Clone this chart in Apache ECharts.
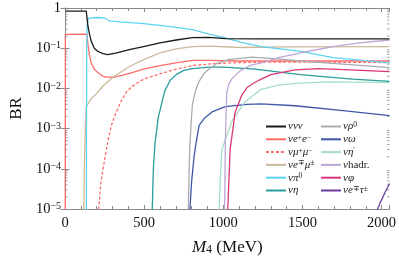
<!DOCTYPE html>
<html><head><meta charset="utf-8">
<script src="https://cdn.jsdelivr.net/npm/echarts@6/dist/echarts.min.js"></script>
<style>html,body{margin:0;padding:0;background:#fff}#c{width:399px;height:261px}</style>
</head><body><div id="c"></div>
<script>
// ---- data (M4 in MeV, branching ratio) ----
const nuNuNu = [[0,0.84],[134,0.84],[138,0.6],[145,0.35],[155,0.22],[165,0.15],[185,0.1],[206,0.084],[240,0.073],[268,0.069],[320,0.075],[413,0.093],[496,0.11],[600,0.135],[702,0.16],[805,0.183],[910,0.185],[1012,0.173],[1200,0.17],[1500,0.17],[2050,0.17]];
const nuEE = [[1.03,1e-7],[2,0.22],[139,0.225],[145,0.12],[155,0.065],[165,0.043],[185,0.03],[206,0.025],[240,0.02],[268,0.019],[310,0.019],[360,0.021],[413,0.024],[496,0.03],[600,0.037],[702,0.043],[805,0.05],[910,0.05],[1100,0.048],[1500,0.048],[2050,0.048]];
const nuMuMu = [[211.4,1e-7],[213,1e-5],[225,4e-5],[240,1e-4],[268,4.2e-4],[290,1.1e-3],[310,0.0019],[350,0.0045],[392,0.0087],[440,0.0125],[496,0.017],[599,0.023],[700,0.03],[805,0.037],[929,0.041],[1100,0.044],[1300,0.045],[1600,0.045],[2050,0.044]];
const nuEMu = [[117,1e-7],[118.5,1e-5],[122,1e-4],[128,1e-3],[134,0.0034],[150,0.0045],[170,0.0058],[196,0.0072],[240,0.0115],[310,0.02],[413,0.036],[496,0.052],[599,0.076],[702,0.096],[805,0.11],[910,0.112],[1115,0.104],[1400,0.108],[2050,0.11]];
const nuPi0 = [[134.9,1e-7],[135.5,1e-3],[137,0.1],[140,0.4],[148,0.56],[200,0.58],[248,0.57],[260,0.53],[280,0.48],[350,0.45],[496,0.41],[600,0.37],[702,0.33],[805,0.29],[910,0.225],[1012,0.18],[1115,0.14],[1239,0.11],[1487,0.083],[1693,0.058],[2050,0.043]];
const nuEta = [[549,1e-7],[551,1e-5],[558,1e-4],[568,4.2e-4],[589,0.0019],[630,0.0087],[665,0.016],[702,0.022],[750,0.028],[805,0.031],[909,0.034],[1000,0.034],[1200,0.03],[1487,0.022],[1817,0.017],[2050,0.015]];
const nuRho = [[775,1e-7],[779,1e-5],[784,1e-4],[789,4.2e-4],[797,0.0015],[805,0.0041],[825,0.009],[847,0.015],[880,0.024],[909,0.03],[960,0.042],[1033,0.052],[1177,0.06],[1300,0.056],[1487,0.048],[1800,0.039],[2050,0.033]];
const nuOmega = [[782,1e-7],[789,1e-5],[800,5e-5],[815,2e-4],[826,4e-4],[847,0.0012],[880,0.0018],[929,0.0026],[1012,0.0035],[1150,0.004],[1239,0.0041],[1453,0.0037],[1756,0.0028],[2050,0.0021]];
const nuEtaP = [[972,1e-7],[974,1e-5],[980,5e-5],[991,3e-4],[1053,0.0015],[1136,0.0046],[1239,0.0095],[1350,0.012],[1453,0.0134],[1655,0.0145],[2050,0.014]];
const nuHadr = [[1000,1e-7],[1008,1e-5],[1011,1e-4],[1013,5e-4],[1018,0.003],[1022,0.0079],[1035,0.013],[1053,0.017],[1080,0.022],[1115,0.029],[1177,0.038],[1239,0.043],[1350,0.058],[1487,0.077],[1693,0.11],[1858,0.135],[2050,0.16]];
const nuPhi = [[1019.5,1e-7],[1028,1e-5],[1035,5e-5],[1043,3e-4],[1074,0.0025],[1115,0.0066],[1150,0.0105],[1198,0.014],[1239,0.017],[1300,0.022],[1453,0.029],[1600,0.031],[1800,0.029],[2050,0.026]];
const nuETau = [[1970,9e-6],[1990,1.4e-5],[2011,2.1e-5],[2030,3e-5],[2050,4.3e-5]];

const xTickLabels = [0,500,1000,1500,2000];
const yDecades = [1e-5,1e-4,1e-3,1e-2,1e-1,1];

const names = ['ννν','νe⁺e⁻','νμ⁺μ⁻','νe∓μ±','νπ⁰','νη','νρ⁰','νω','νη′','νhadr.','νφ','νe∓τ±'];
const richNames = {
 'ννν':'{i|ννν}',
 'νe⁺e⁻':'{i|νe}{sp|+}{i|e}{sp|−}',
 'νμ⁺μ⁻':'{i|νμ}{sp|+}{i|μ}{sp|−}',
 'νe∓μ±':'{i|νe}{sp|∓}{i|μ}{sp|±}',
 'νπ⁰':'{i|νπ}{sp|0}',
 'νη':'{i|νη}',
 'νρ⁰':'{i|νρ}{sp|0}',
 'νω':'{i|νω}',
 'νη′':'{i|νη}{sp|′}',
 'νhadr.':'{i|ν}{r|hadr.}',
 'νφ':'{i|νφ}',
 'νe∓τ±':'{i|νe}{sp|∓}{i|τ}{sp|±}'
};
const datas = [nuNuNu,nuEE,nuMuMu,nuEMu,nuPi0,nuEta,nuRho,nuOmega,nuEtaP,nuHadr,nuPhi,nuETau];
const colors = ['#1a1a1a','#ff6b6b','#ff6b6b','#c9b99a','#5dd3f3','#2a9c9c','#a8acb0','#3f56a8','#a6dcc4','#bca6d6','#d8387a','#6a3c9e'];
const FONT = 'Liberation Serif';

const minorVals = [];
for (let e = -5; e < 0; e++) for (let k = 2; k <= 9; k++) minorVals.push([0, k*Math.pow(10,e)]);

const series = datas.map((d,i)=>({
  name: names[i], type:'line', data:d, showSymbol:false, symbol:'none',
  lineStyle:{color:colors[i], width:1.3, type: i===2?[3,2]:'solid'},
  itemStyle:{color:colors[i]}, z: 3+(i===0?1:0), clip:true, animation:false
}));
series.push({
  type:'custom', data:minorVals, silent:true, clip:false, z:10, animation:false,
  renderItem:function(params, api){
    const v = api.value(1);
    const l = api.coord([0, v]); const r = api.coord([2050, v]);
    return {type:'group', children:[
      {type:'line', shape:{x1:l[0],y1:l[1],x2:l[0]+2.5,y2:l[1]}, style:{stroke:'#888',lineWidth:0.8}},
      {type:'line', shape:{x1:r[0],y1:r[1],x2:r[0]-2.5,y2:r[1]}, style:{stroke:'#888',lineWidth:0.8}}
    ]};
  }
});

const legendRich = {
  i:{fontFamily:FONT,fontStyle:'italic',fontSize:11,color:'#222'},
  r:{fontFamily:FONT,fontSize:11,color:'#222'},
  sp:{fontFamily:FONT,fontSize:7.5,color:'#222',verticalAlign:'top',lineHeight:8}
};
function mkLegend(list,left){
  return {data:list, left:left, top:121, orient:'vertical', itemWidth:20, itemHeight:12, itemGap:1.8,
    padding:0, itemStyle:{opacity:0, borderWidth:0}, formatter:n=>richNames[n],
    textStyle:{fontFamily:FONT,fontSize:11,rich:legendRich,padding:[0,0,0,-3]}};
}

const axisGrey = '#8a8a8a';
const option = {
  animation:false,
  grid:{left:60,right:9,top:8,bottom:51},
  legend:[mkLegend(names.slice(0,6),265), mkLegend(names.slice(6),320)],
  xAxis:[{
    type:'value', min:0, max:2050, interval:500,
    axisLine:{lineStyle:{color:axisGrey,width:1}},
    axisTick:{inside:true,length:4,lineStyle:{color:axisGrey}},
    minorTick:{show:true,splitNumber:5,length:3,lineStyle:{color:axisGrey}},
    splitLine:{show:false},
    axisLabel:{showMaxLabel:false,color:'#111',fontFamily:FONT,fontSize:14.5,margin:7,
      formatter:v=>xTickLabels.includes(v)?String(v):''},
    name:'{i|M}{sub|4} (MeV)', nameLocation:'middle', nameGap:30,
    nameTextStyle:{fontFamily:FONT,fontSize:17,color:'#111',
      rich:{i:{fontFamily:FONT,fontStyle:'italic',fontSize:17,color:'#111'},
            sub:{fontFamily:FONT,fontSize:12,color:'#111',verticalAlign:'bottom',lineHeight:13}}}
  },{
    type:'value', position:'top', min:0, max:2050, interval:500,
    axisLine:{lineStyle:{color:axisGrey,width:1}},
    axisTick:{inside:true,length:4,lineStyle:{color:axisGrey}},
    minorTick:{show:true,splitNumber:5,length:3,lineStyle:{color:axisGrey}},
    splitLine:{show:false}, axisLabel:{show:false}
  }],
  yAxis:[{
    type:'log', min:1e-5, max:1, logBase:10,
    axisLine:{show:true,lineStyle:{color:axisGrey,width:1}},
    axisTick:{show:true,inside:true,length:4.5,lineStyle:{color:axisGrey}},
    splitLine:{show:false},
    axisLabel:{color:'#111',fontFamily:FONT,fontSize:14.5,margin:4,
      formatter:function(v){
        const e = Math.round(Math.log10(v));
        if (!yDecades.some(d=>Math.abs(Math.log10(d)-e)<1e-6)) return '';
        if (e===0) return '1';
        return '10{sp|−'+(-e)+'}';
      },
      rich:{sp:{fontFamily:FONT,fontSize:10,color:'#111',verticalAlign:'top',lineHeight:10}}},
    name:'BR', nameLocation:'middle', nameGap:36, nameRotate:90,
    nameTextStyle:{fontFamily:FONT,fontSize:17,color:'#111'}
  },{
    type:'log', position:'right', min:1e-5, max:1, logBase:10,
    axisLine:{show:true,lineStyle:{color:axisGrey,width:1}},
    axisTick:{show:true,inside:true,length:4.5,lineStyle:{color:axisGrey}},
    splitLine:{show:false}, axisLabel:{show:false}
  }],
  series:series
};
const chart = echarts.init(document.getElementById('c'),null,{renderer:'canvas'});
chart.setOption(option);
</script></body></html>
